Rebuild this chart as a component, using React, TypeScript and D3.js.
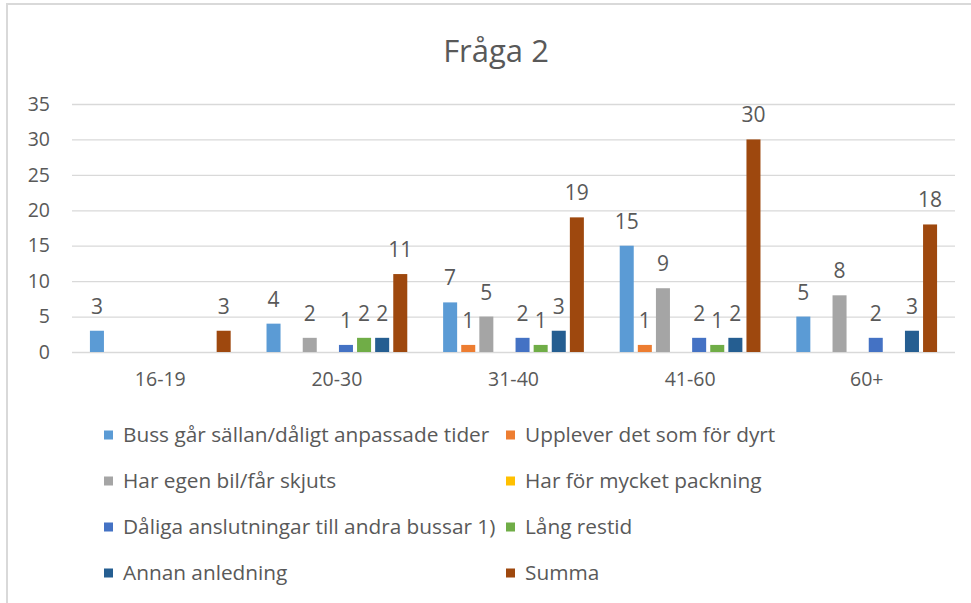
import React, { useRef, useEffect } from "react";
import * as d3 from "d3";

const title = "Fråga 2";
const categories = ["16-19", "20-30", "31-40", "41-60", "60+"];
const seriesNames = [
  "Buss går sällan/dåligt anpassade tider",
  "Upplever det som för dyrt",
  "Har egen bil/får skjuts",
  "Har för mycket packning",
  "Dåliga anslutningar till andra bussar 1)",
  "Lång restid",
  "Annan anledning",
  "Summa",
];
const seriesColors = ["#5B9BD5", "#ED7D31", "#A5A5A5", "#FFC000", "#4472C4", "#70AD47", "#255E91", "#9E480E"];
// one row per series, one value per category
const buss = [3, 4, 7, 15, 5];
const dyrt = [0, 0, 1, 1, 0];
const egenBil = [0, 2, 5, 9, 8];
const packning = [0, 0, 0, 0, 0];
const anslutningar = [0, 1, 2, 2, 2];
const restid = [0, 2, 1, 1, 0];
const annan = [0, 2, 3, 2, 3];
const summa = [3, 11, 19, 30, 18];
const seriesValues = [buss, dyrt, egenBil, packning, anslutningar, restid, annan, summa];
const yTicks = [0, 5, 10, 15, 20, 25, 30, 35];

const font = "'Open Sans', sans-serif";
const textColor = "#595959";

const Chart = () => {
  const svgRef = useRef<SVGSVGElement>(null);

  useEffect(() => {
    const svg = d3.select(svgRef.current);
    svg.selectAll("*").remove();

    const width = 971;
    const height = 603;
    const margin = { top: 104, right: 16, bottom: 251, left: 72 };
    const innerWidth = width - margin.left - margin.right;
    const innerHeight = height - margin.top - margin.bottom;

    // chart frame
    svg.append("rect")
      .attr("x", 7).attr("y", 4)
      .attr("width", 1000).attr("height", 700)
      .attr("fill", "white")
      .attr("stroke", "#D9D9D9")
      .attr("stroke-width", 2);

    svg.append("text")
      .attr("x", 496).attr("y", 62)
      .attr("text-anchor", "middle")
      .attr("font-family", font)
      .attr("font-size", 31)
      .attr("fill", textColor)
      .text(title);

    const g = svg.append("g").attr("transform", `translate(${margin.left},${margin.top})`);

    const x0 = d3.scaleBand().domain(categories).range([0, innerWidth]);
    const x1 = d3.scaleBand<number>()
      .domain(d3.range(seriesNames.length))
      .range([0, x0.bandwidth()])
      .paddingInner(0.226)
      .paddingOuter(0.99);
    const y = d3.scaleLinear().domain([0, 35]).range([innerHeight, 0]);

    // gridlines + y labels
    const yAxis = d3.axisLeft(y).tickValues(yTicks).tickSize(-innerWidth).tickPadding(22);
    const yAxisG = g.append("g").call(yAxis);
    yAxisG.select(".domain").remove();
    yAxisG.selectAll(".tick line").attr("stroke", "#D9D9D9").attr("stroke-width", 1.3);
    yAxisG.selectAll(".tick text")
      .attr("font-family", font)
      .attr("font-size", 19.5)
      .attr("fill", textColor);

    const xAxis = d3.axisBottom(x0).tickSize(0).tickPadding(20);
    const xAxisG = g.append("g").attr("transform", `translate(0,${innerHeight})`).call(xAxis);
    xAxisG.select(".domain").remove();
    xAxisG.selectAll(".tick text")
      .attr("font-family", font)
      .attr("font-size", 19.5)
      .attr("fill", textColor);

    // bars
    const groups = g.selectAll(".cat")
      .data(categories)
      .enter()
      .append("g")
      .attr("transform", d => `translate(${x0(d)},0)`);

    groups.each(function (cat, ci) {
      const cell = d3.select(this);
      const points = seriesValues.map((vals, si) => ({ si, v: vals[ci] })).filter(p => p.v > 0);
      cell.selectAll("rect")
        .data(points)
        .enter()
        .append("rect")
        .attr("x", p => x1(p.si) as number)
        .attr("y", p => y(p.v))
        .attr("width", x1.bandwidth())
        .attr("height", p => innerHeight - y(p.v))
        .attr("fill", p => seriesColors[p.si]);
      cell.selectAll("text")
        .data(points)
        .enter()
        .append("text")
        .attr("x", p => (x1(p.si) as number) + x1.bandwidth() / 2)
        .attr("y", p => y(p.v) - 17)
        .attr("text-anchor", "middle")
        .attr("font-family", font)
        .attr("font-size", 21)
        .attr("fill", textColor)
        .text(p => p.v);
    });

    // legend, two columns
    const legend = svg.append("g");
    seriesNames.forEach((name, i) => {
      const col = i % 2;
      const row = Math.floor(i / 2);
      const lx = col === 0 ? 104 : 506;
      const ly = 435 + row * 46;
      legend.append("rect")
        .attr("x", lx).attr("y", ly - 4.5)
        .attr("width", 9).attr("height", 9)
        .attr("fill", seriesColors[i]);
      legend.append("text")
        .attr("x", lx + 19).attr("y", ly)
        .attr("dy", "0.35em")
        .attr("font-family", font)
        .attr("font-size", 20.8)
        .attr("fill", textColor)
        .text(name);
    });
  }, []);

  return <svg ref={svgRef} width={971} height={603} style={{ display: "block" }} />;
};

const App = () => {
  return (
    <div style={{ position: "absolute", left: 0, top: 0 }}>
      <Chart />
    </div>
  );
};

export default App;
